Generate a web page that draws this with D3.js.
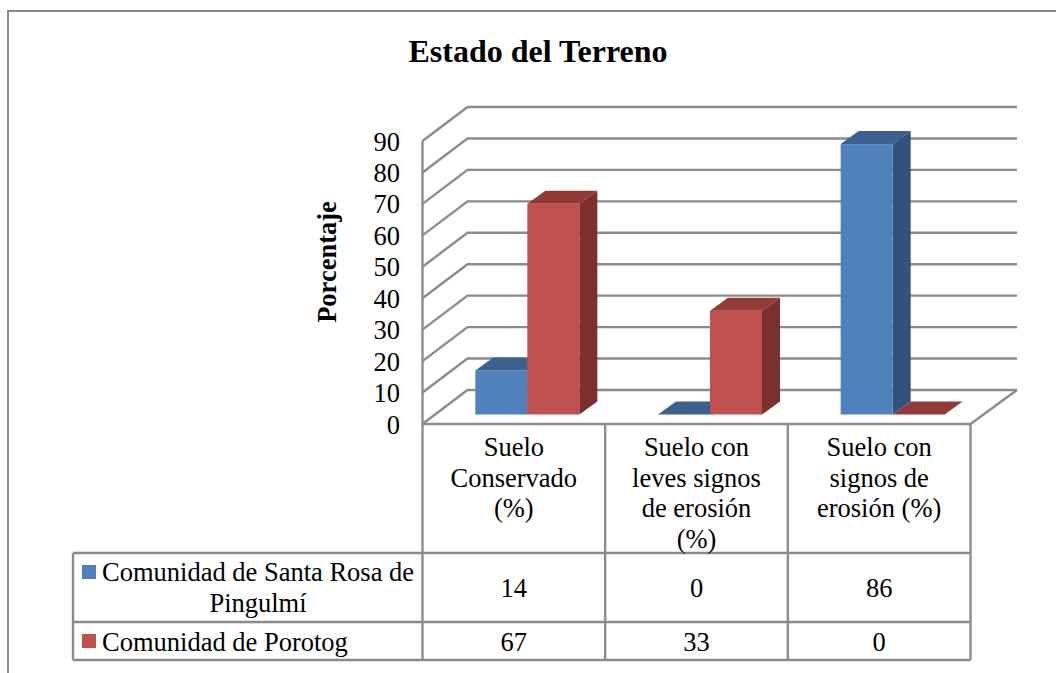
<!DOCTYPE html>
<html><head><meta charset="utf-8">
<script src="https://cdn.jsdelivr.net/npm/d3@7"></script>
<style>html,body{margin:0;padding:0;background:#fff}svg{display:block}text{font-family:"Liberation Serif",serif;fill:#000}</style>
</head><body><svg id="c" width="1056" height="673"></svg>
<script>
const categories = ["Suelo Conservado (%)", "Suelo con leves signos de erosión (%)", "Suelo con signos de erosión (%)"];
const categoryLines = [["Suelo","Conservado","(%)"],["Suelo con","leves signos","de erosión","(%)"],["Suelo con","signos de","erosión (%)"]];
const seriesNames = ["Comunidad de Santa Rosa de Pingulmí", "Comunidad de Porotog"];
const santaRosa = [14, 0, 86];
const porotog = [67, 33, 0];
const yTicks = [0,10,20,30,40,50,60,70,80,90];
const titleText = "Estado del Terreno";
const yTitle = "Porcentaje";

const svg = d3.select("#c");
const grid = "#8c8c8c";
const fs = 26.5;
const x = d3.scaleBand().domain(d3.range(3)).range([422.5, 970.5]);
const y = d3.scaleLinear().domain([0,90]).range([424, 141]);
const wall = {dx:45, dy:-34, right:1017};
const bar = {dx:18, dy:-13, baseDx:13.5, baseDy:-9.5, w:52};
const colors = [{f:"#4f81bd",t:"#3c618f",s:"#31527a"},{f:"#c0504d",t:"#923a38",s:"#7b302e"}];

// frame
svg.append("path").attr("d","M8,673V11H1056").attr("fill","none").attr("stroke",grid).attr("stroke-width",2);

// walls and gridlines
const g = svg.append("g").attr("fill","none").attr("stroke",grid).attr("stroke-width",2.4);
yTicks.forEach(t=>{
  g.append("path").attr("d",`M${x.range()[0]},${y(t)}L${x.range()[0]+wall.dx},${y(t)+wall.dy}H${wall.right}`);
});
g.append("path").attr("d",`M${x.range()[0]},${y(0)}V${y(90)}`);
g.append("path").attr("d",`M${x.range()[0]},${y(0)}H${x.range()[1]}L${wall.right},${y(0)+wall.dy}`);

// bars
function drawBar(cat, s, v){
  const x0 = x(cat)+x.bandwidth()/2+bar.baseDx+(s-1)*bar.w, x1=x0+bar.w;
  const b = y(0)+bar.baseDy, h = y(0)-y(v), t = b-h;
  const c = colors[s], G = svg.append("g");
  if(v>0){
    G.append("path").attr("fill",c.s).attr("d",`M${x1},${b}V${t}l${bar.dx},${bar.dy}V${b+bar.dy}Z`);
    G.append("rect").attr("x",x0).attr("y",t).attr("width",bar.w).attr("height",h).attr("fill",c.f);
  }
  G.append("path").attr("fill",c.t).attr("d",`M${x0},${t}H${x1}l${bar.dx},${bar.dy}H${x0+bar.dx}Z`);
}
[0,1,2].forEach(i=>{drawBar(i,0,santaRosa[i]);drawBar(i,1,porotog[i]);});

// y tick labels
yTicks.forEach(t=>svg.append("text").attr("x",400).attr("y",y(t)+9.5).attr("text-anchor","end").attr("font-size",fs).text(t));

// titles
svg.append("text").attr("x",538).attr("y",62).attr("text-anchor","middle").attr("font-size",32).attr("font-weight","bold").text(titleText);
svg.append("text").attr("transform","translate(336,262) rotate(-90)").attr("text-anchor","middle").attr("font-size",fs).attr("font-weight","bold").text(yTitle);

// data table
const rows = [553,622,660], tb = svg.append("g").attr("fill","none").attr("stroke",grid).attr("stroke-width",2.4);
const vx = [0,1,2].map(i=>x(i)).concat(x.range()[1]);
vx.forEach(v=>tb.append("path").attr("d",`M${v},${y(0)}V${rows[2]}`));
rows.forEach(r=>tb.append("path").attr("d",`M73,${r}H${x.range()[1]}`));
tb.append("path").attr("d",`M73,${rows[0]}V${rows[2]}`);

categoryLines.forEach((ls,i)=>ls.forEach((l,j)=>svg.append("text")
  .attr("x",x(i)+x.bandwidth()/2).attr("y",456+j*30.5).attr("text-anchor","middle").attr("font-size",fs).text(l)));
const valY=[597,651];
[santaRosa,porotog].forEach((vals,s)=>vals.forEach((v,i)=>svg.append("text")
  .attr("x",x(i)+x.bandwidth()/2).attr("y",valY[s]).attr("text-anchor","middle").attr("font-size",fs).text(v)));

// legend keys in table
svg.append("rect").attr("x",82).attr("y",565).attr("width",14).attr("height",14).attr("fill",colors[0].f);
svg.append("rect").attr("x",82).attr("y",634).attr("width",14).attr("height",14).attr("fill",colors[1].f);
svg.append("text").attr("x",102).attr("y",581).attr("font-size",fs).text("Comunidad de Santa Rosa de");
svg.append("text").attr("x",258).attr("y",612).attr("text-anchor","middle").attr("font-size",fs).text("Pingulmí");
svg.append("text").attr("x",102).attr("y",651).attr("font-size",fs).text(seriesNames[1]);
</script></body></html>
